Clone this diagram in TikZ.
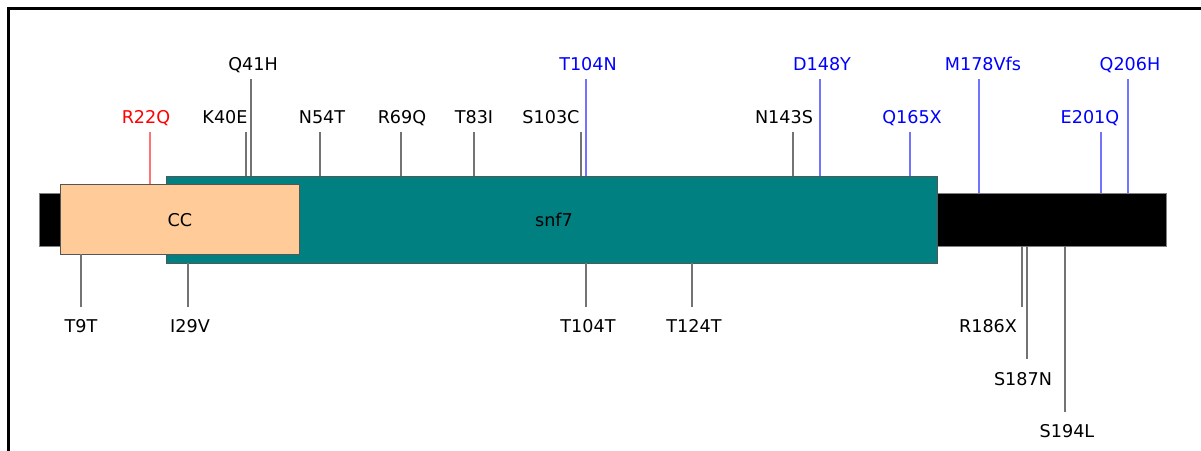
\documentclass[tikz,border=0pt]{standalone}
\usepackage{fontspec}
\setmainfont{DejaVu Sans}
\definecolor{snfteal}{RGB}{0,128,128}
\definecolor{ccpeach}{RGB}{255,204,153}
\definecolor{edgegray}{RGB}{85,85,85}
\begin{document}
\begin{tikzpicture}[x=1pt,y=-1pt,
  domainbox/.style={draw=edgegray,line width=0.9pt,inner sep=0pt},
  mutline/.style={line width=1.2pt},
  mutlabel/.style={anchor=base,inner sep=0pt,font=\fontsize{17.6}{20}\selectfont},
  boxlabel/.style={inner sep=0pt,font=\fontsize{17.6}{20}\selectfont}]
\clip (0,0) rectangle (1201,450);
\fill[white] (0,0) rectangle (1201,450);
% frame
\draw[line width=3.5pt] (8.5,460) -- (8.5,8.5) -- (1210,8.5);
% protein backbone and domains
\node[domainbox,draw=gray,fill=black,minimum width=1127pt,minimum height=53pt] (bar) at (602.5,219.5) {};
\node[domainbox,fill=snfteal,minimum width=771pt,minimum height=87pt] (snf) at (551.5,219.5) {};
\node[domainbox,fill=ccpeach,minimum width=239pt,minimum height=70pt] (cc) at (179.5,219) {};
\node[boxlabel] (cctext) at (180,220) {CC};
\node[boxlabel] (snftext) at (554,220) {snf7};
% mutations: line x / line free end / box edge / label x / label baseline / colour / text
\foreach \lx/\ly/\tgt/\tx/\ty/\col/\txt [count=\i] in {
  150/132/cc.north/146/123/red/R22Q,
  246/132/snf.north/225/123/black/K40E,
  251/79/snf.north/253/70/black/Q41H,
  320/132/snf.north/322/123/black/N54T,
  401/132/snf.north/402/123/black/R69Q,
  474/132/snf.north/474/123/black/T83I,
  581/132/snf.north/551/123/black/S103C,
  586/79/snf.north/588/70/blue/T104N,
  793/132/snf.north/784/123/black/N143S,
  820/79/snf.north/822/70/blue/D148Y,
  910/132/snf.north/912/123/blue/Q165X,
  979/79/bar.north/983/70/blue/M178Vfs,
  1101/132/bar.north/1090/123/blue/E201Q,
  1128/79/bar.north/1130/70/blue/Q206H,
  81/307/cc.south/81/332/black/T9T,
  188/307/snf.south/190/332/black/I29V,
  586/307/snf.south/588/332/black/T104T,
  692/307/snf.south/694/332/black/T124T,
  1022/307/bar.south/988/332/black/R186X,
  1027/359/bar.south/1023/385/black/S187N,
  1065/412/bar.south/1067/437/black/S194L} {
  \coordinate (e\i) at (\lx,\ly);
  \node[mutlabel,text=\col] (m\i) at (\tx,\ty) {\txt};
  \draw[mutline,draw=\col!55] (e\i) -- (\lx,0 |- \tgt);
}
\end{tikzpicture}
\end{document}
